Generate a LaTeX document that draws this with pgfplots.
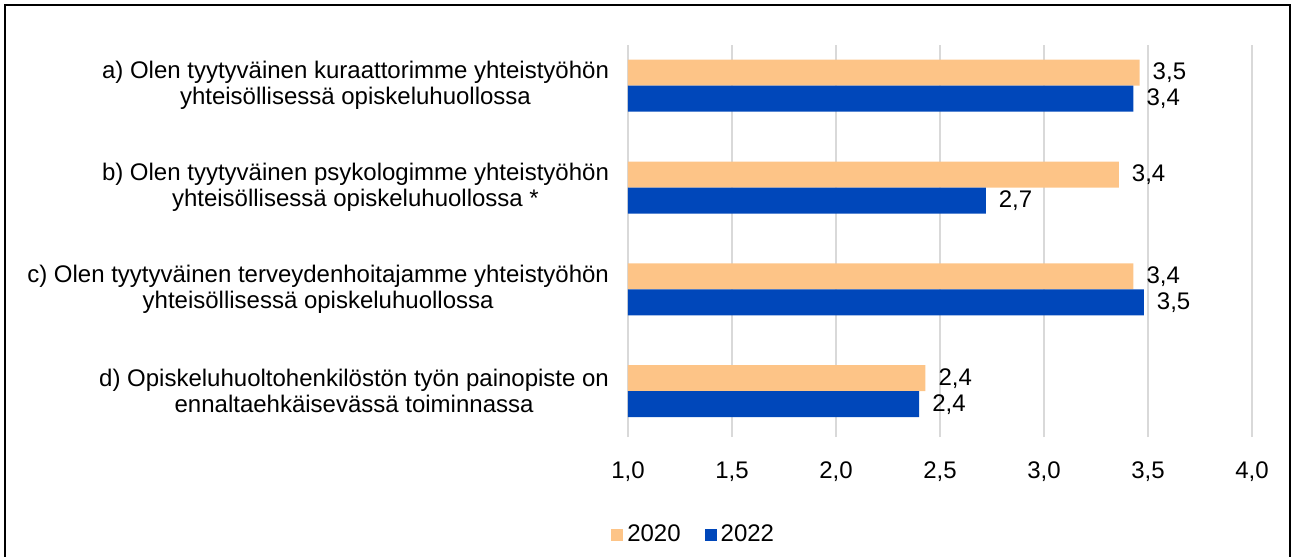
\documentclass[border=0pt]{standalone}
\usepackage{fontspec}
\setmainfont{Liberation Sans}
\usepackage{pgfplots}
\pgfplotsset{compat=1.18}
\definecolor{c2020}{RGB}{253,196,135}
\definecolor{c2022}{RGB}{0,71,186}
\definecolor{gridc}{RGB}{217,217,217}
\begin{document}
\begin{tikzpicture}
\path[use as bounding box] (-314pt,-59.5pt) rectangle (332.5pt,218.5pt);
\draw[line width=1.2pt] (-311.5pt,-60pt) -- (-311.5pt,216pt) -- (331pt,216pt) -- (331pt,-60pt);
\begin{axis}[
  scale only axis,
  width=312pt, height=196pt,
  xbar=0pt, bar width=13pt,
  xmin=1, xmax=4, ymin=-0.45, ymax=3.40,
  xtick={1,1.5,2,2.5,3,3.5,4},
  ytick={0,1,2,3},
  yticklabels={
    {d) Opiskeluhuoltohenkilöstön työn painopiste on\\ennaltaehkäisevässä toiminnassa},
    {c) Olen tyytyväinen terveydenhoitajamme yhteistyöhön\\yhteisöllisessä opiskeluhuollossa},
    {b) Olen tyytyväinen psykologimme yhteistyöhön\\yhteisöllisessä opiskeluhuollossa *},
    {a) Olen tyytyväinen kuraattorimme yhteistyöhön\\yhteisöllisessä opiskeluhuollossa}},
  yticklabel style={align=center, font=\fontsize{12}{13}\selectfont, xshift=-6pt},
  xticklabel style={font=\fontsize{12}{13}\selectfont, yshift=-9pt},
  /pgf/number format/.cd, fixed, fixed zerofill, precision=1, use comma, assume math mode=true,
  /pgfplots/.cd,
  xmajorgrids, grid style={gridc, line width=0.8pt},
  axis line style={draw=none},
  major tick length=0pt,
  nodes near coords,
  nodes near coords style={font=\fontsize{12}{13}\selectfont, anchor=west, xshift=3pt,
    /pgf/number format/.cd, fixed, fixed zerofill, precision=1, use comma, assume math mode=true},
  legend columns=2,
  legend style={draw=none, fill=none, at={(axis description cs:-0.037,-0.25)}, anchor=west,
    font=\fontsize{12}{13}\selectfont, /tikz/every even column/.append style={column sep=10pt}},
  legend image code/.code={\draw[#1,draw=none] (0pt,-3pt) rectangle (6pt,3pt);},
  clip=false,
]
\draw[gridc, line width=0.8pt] (axis cs:1,-0.45) -- (axis cs:1,3.40);
\addplot[fill=c2020, draw=none, bar shift=6.5pt] coordinates {(2.43,0) (3.43,1) (3.36,2) (3.46,3)};
\addplot[fill=c2022, draw=none, bar shift=-6.5pt] coordinates {(2.40,0) (3.48,1) (2.72,2) (3.43,3)};
\legend{2020,2022}
\end{axis}
\end{tikzpicture}
\end{document}
